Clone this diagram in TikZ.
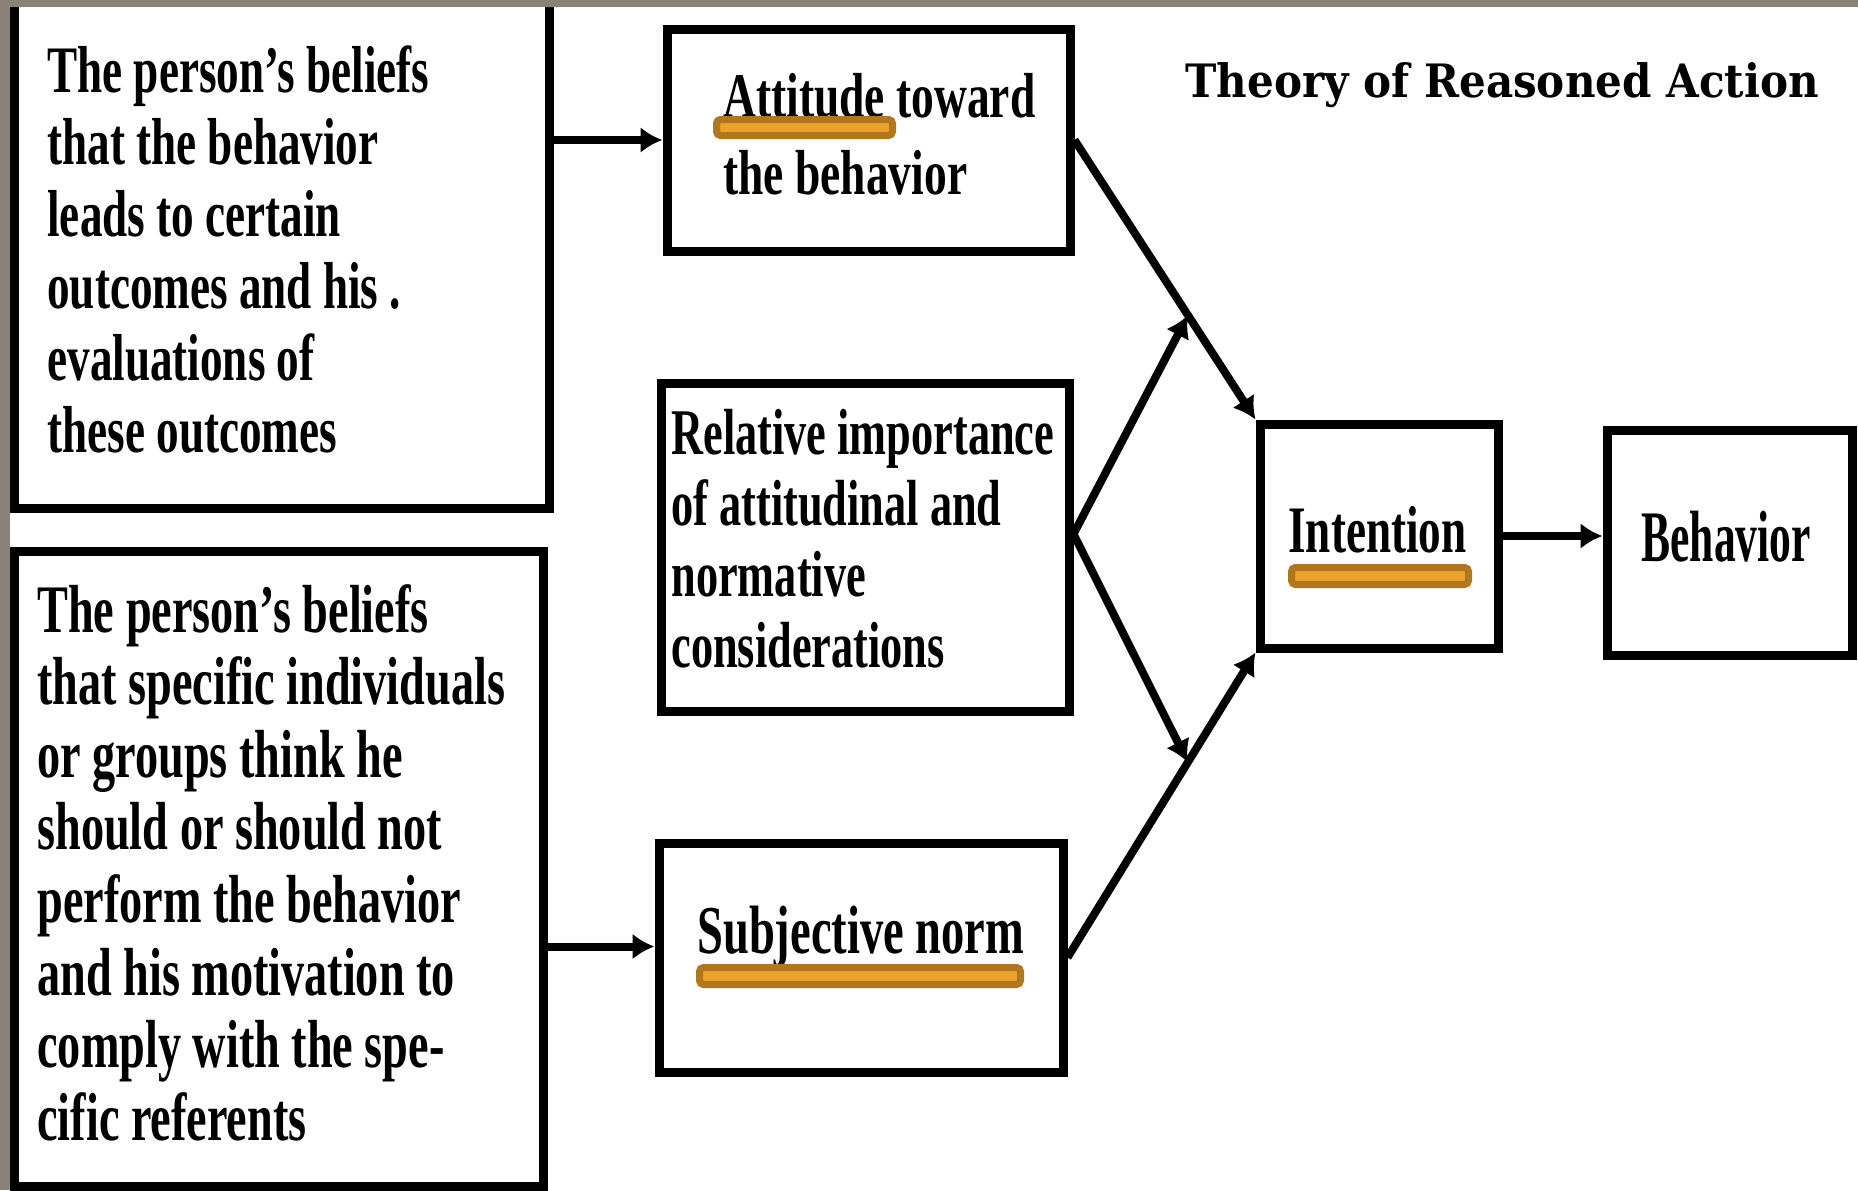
\documentclass[tikz,border=0pt]{standalone}
\usepackage{fontspec}
\usetikzlibrary{arrows.meta,calc}
% condensed serifs for the box texts, slab-like serif for the heading
\newfontfamily\boxfont{Liberation Serif}[FakeStretch=0.68]
\newfontfamily\looserfont{Liberation Serif}[FakeStretch=0.715]
\newfontfamily\narrowfont{Liberation Serif}[FakeStretch=0.60]
\newfontfamily\titlefont{DejaVu Serif}[FakeStretch=0.915]
\definecolor{framegrey}{HTML}{8A8279}
\definecolor{barfill}{HTML}{EEA22E}
\definecolor{baredge}{HTML}{B07620}
% multi-line text block whose baseline is that of its first line
\newcommand\textblock[4][\boxfont]{#1\bfseries\fontsize{#2}{#3}\selectfont
  \begin{tabular}[t]{@{}l@{}}#4\end{tabular}}
\tikzset{
  box/.style={draw=black, line width=4.5pt, fill=white, inner sep=0pt},
  txt/.style={anchor=base west, inner sep=0pt},
  link/.style={line width=4pt, -{Latex[length=11pt,width=13pt]}},
  bar/.style={fill=barfill, draw=baredge, line width=3.5pt, rounded corners=2pt},
}
\begin{document}
\begin{tikzpicture}[x=0.5pt, y=-0.5pt]
\useasboundingbox (0,0) rectangle (1858,1190);
\fill[white] (0,0) rectangle (1858,1190);

% boxes
\node[box, minimum width=267.5pt, minimum height=264pt]   (b1)  at (281.5,244) {};
\node[box, minimum width=264.5pt, minimum height=317.5pt] (b2)  at (278.5,868.5) {};
\node[box, minimum width=201.5pt, minimum height=111pt]   (att) at (868.5,140) {};
\node[box, minimum width=204pt,   minimum height=164pt]   (rel) at (865,547) {};
\node[box, minimum width=202pt,   minimum height=114.5pt] (sub) at (861,957.5) {};
\node[box, minimum width=119pt,   minimum height=112pt]   (int) at (1379,536) {};
\node[box, minimum width=122.5pt, minimum height=112.5pt] (beh) at (1729.5,542.5) {};

% texts
\node[txt] (t1) at (47,92) {\textblock{33.2}{36}{%
  The person’s beliefs\\ that the behavior\\ leads to certain\\
  outcomes and his .\\ evaluations of\\ these outcomes}};
\node[txt] (t2) at (37,632) {\textblock{34}{36.3}{%
  The person’s beliefs\\ that specific individuals\\ or groups think he\\
  should or should not\\ perform the behavior\\ and his motivation to\\
  comply with the spe-\\ cific referents}};
\node[txt] (tatt) at (723,117) {\textblock[\looserfont]{31.8}{38.5}{Attitude toward\\ the behavior}};
\node[txt] (trel) at (671,454) {\textblock{32.6}{35.5}{%
  Relative importance\\ of attitudinal and\\ normative\\ considerations}};
\node[txt] (tsub) at (697,953) {\textblock{34.2}{40}{Subjective norm}};
\node[txt] (tint) at (1288,552) {\textblock{33.2}{40}{Intention}};
\node[txt] (tbeh) at (1641,561) {\narrowfont\bfseries\fontsize{36.3}{40}\selectfont Behavior};
\node[txt] (title) at (1185,97) {\titlefont\bfseries\fontsize{23}{27}\selectfont Theory of Reasoned Action};

% highlight bars under key terms
\draw[bar] (716.5,119.5) rectangle (892.5,135.5);
\draw[bar] (1291.5,567.5) rectangle (1468.5,584.5);
\draw[bar] (699.5,967.5) rectangle (1020.5,984.5);

% connectors
\draw[link] (b1.east |- att.west) -- (att.west);
\coordinate (subin) at ($(sub.west)+(0,-11)$);
\draw[link] (b2.east |- subin) -- (subin);
\draw[link] (att.east) -- (int.north west);
\draw[link] (sub.east) -- (int.south west);
\coordinate (relout) at ($(rel.east)+(0,-13)$);
\coordinate (upmeet) at ($(att.east)!0.627!(int.north west)$);
\coordinate (lowmeet) at ($(sub.east)!0.64!(int.south west)$);
\draw[link] (relout) -- (upmeet);
\draw[link] (relout) -- (lowmeet);
\draw[link] (int.east) -- (int.east -| beh.west);

% slide frame along the top and left edges
\fill[framegrey] (0,0) rectangle (1858,7);
\fill[framegrey] (0,0) rectangle (10,1190);
\end{tikzpicture}
\end{document}
